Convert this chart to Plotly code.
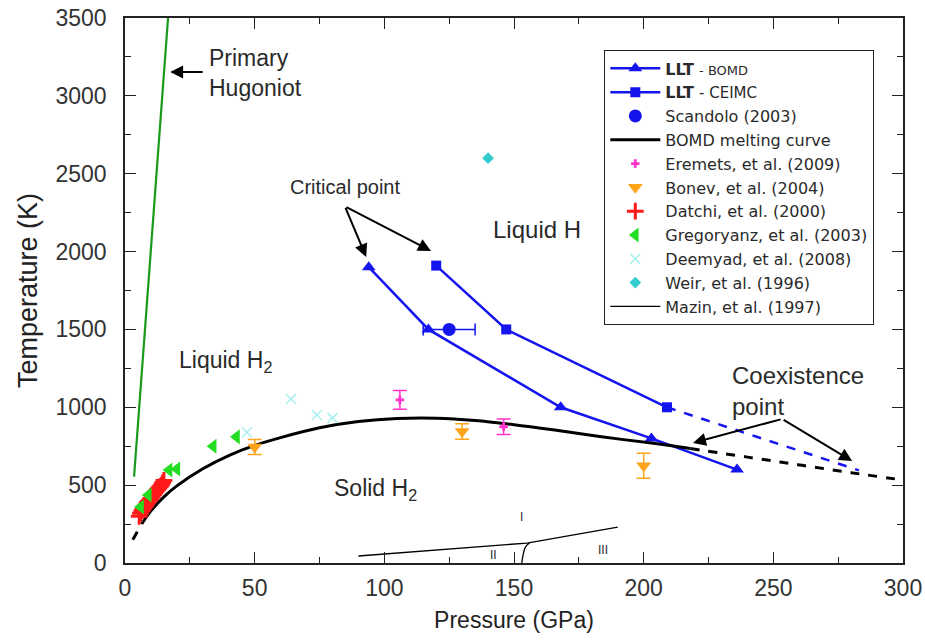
import plotly.graph_objects as go

# ---------------- data ----------------
llt_bomd_p = [94, 117, 168, 203, 236]
llt_bomd_t = [1900, 1500, 1000, 800, 600]

llt_ceimc_p = [120, 147, 209]
llt_ceimc_t = [1910, 1500, 1000]
llt_ceimc_ext_p = [209, 283]
llt_ceimc_ext_t = [1000, 595]

scandolo_p = [125]
scandolo_t = [1500]
scandolo_perr = [10]

melt_p = [7, 10, 15, 20, 30, 40, 50, 60, 75, 90, 105, 120, 135, 150, 165, 183, 203, 218]
melt_t = [265, 335, 425, 495, 605, 690, 755, 805, 868, 908, 928, 930, 915, 888, 855, 812, 770, 735]
melt_low_p = [3, 7]
melt_low_t = [150, 265]
melt_high_p = [218, 240, 260, 280, 300]
melt_high_t = [735, 680, 630, 580, 533]

eremets_p = [106, 146]
eremets_t = [1047, 875]
eremets_err = [60, 50]

bonev_p = [50, 130, 200]
bonev_t = [745, 845, 625]
bonev_err = [48, 50, 80]

datchi_p = [5.5, 6.0, 6.5, 7.0, 7.5, 8.0, 8.5, 9.0, 9.5, 10.0, 10.5, 11.0, 11.5, 12.0, 12.5, 13.0, 13.5, 14.0, 14.5, 15.0]
datchi_t = [300, 320, 335, 345, 360, 370, 385, 395, 405, 415, 425, 440, 450, 460, 470, 480, 490, 500, 515, 530]

gregoryanz_p = [6, 9, 17, 20, 34, 43]
gregoryanz_t = [360, 437, 597, 604, 750, 810]

deemyad_p = [47, 64, 74, 80]
deemyad_t = [840, 1053, 950, 932]

weir_p = [140]
weir_t = [2600]

mazin_p = [90, 150, 155, 190]
mazin_t = [45, 125, 128, 231]
mazin2_p = [153, 153.6, 154.5, 156]
mazin2_t = [0, 60, 105, 128]

hugoniot_p = [3.5, 16.6]
hugoniot_t = [555, 3500]

BLUE = "#1414ee"
TXT = "#2a2a2a"

fig = go.Figure()

fig.add_trace(go.Scatter(x=hugoniot_p, y=hugoniot_t, mode="lines",
                         line=dict(color="#1a9a1a", width=2.2), showlegend=False))

fig.add_trace(go.Scatter(x=llt_bomd_p, y=llt_bomd_t, mode="lines+markers",
                         name="<b>LLT</b> <span style='font-size:13px'>- BOMD</span>",
                         line=dict(color=BLUE, width=2.5),
                         marker=dict(symbol="triangle-up", size=12, color=BLUE)))
fig.add_trace(go.Scatter(x=llt_ceimc_p, y=llt_ceimc_t, mode="lines+markers",
                         name="<b>LLT</b> <span style='font-size:15px'>- CEIMC</span>",
                         line=dict(color=BLUE, width=2.5),
                         marker=dict(symbol="square", size=10, color=BLUE)))
fig.add_trace(go.Scatter(x=llt_ceimc_ext_p, y=llt_ceimc_ext_t, mode="lines",
                         line=dict(color=BLUE, width=2.5, dash="dash"), showlegend=False))
fig.add_trace(go.Scatter(x=scandolo_p, y=scandolo_t, mode="markers", name="Scandolo (2003)",
                         marker=dict(symbol="circle", size=13, color=BLUE),
                         error_x=dict(type="data", array=scandolo_perr, color=BLUE,
                                      thickness=1.5, width=6)))
fig.add_trace(go.Scatter(x=melt_p, y=melt_t, mode="lines", name="BOMD melting curve",
                         line=dict(color="black", width=3, shape="spline")))
fig.add_trace(go.Scatter(x=melt_low_p, y=melt_low_t, mode="lines",
                         line=dict(color="black", width=3, dash="dash"), showlegend=False))
fig.add_trace(go.Scatter(x=melt_high_p, y=melt_high_t, mode="lines",
                         line=dict(color="black", width=3, dash="dash", shape="spline"),
                         showlegend=False))
fig.add_trace(go.Scatter(x=eremets_p, y=eremets_t, mode="markers", name="Eremets, et al. (2009)",
                         marker=dict(symbol="cross", size=7, color="#ff33cc"),
                         error_y=dict(type="data", array=eremets_err, color="#ff33cc",
                                      thickness=1.5, width=7)))
fig.add_trace(go.Scatter(x=bonev_p, y=bonev_t, mode="markers", name="Bonev, et al. (2004)",
                         marker=dict(symbol="triangle-down", size=13, color="#ffa31a"),
                         error_y=dict(type="data", array=bonev_err, color="#ffa31a",
                                      thickness=1.5, width=7)))
fig.add_trace(go.Scatter(x=datchi_p, y=datchi_t, mode="markers", name="Datchi, et al. (2000)",
                         marker=dict(symbol="cross-thin", size=12, color="#ff1a1a",
                                     line=dict(width=3, color="#ff1a1a"))))
fig.add_trace(go.Scatter(x=gregoryanz_p, y=gregoryanz_t, mode="markers",
                         name="Gregoryanz, et al. (2003)",
                         marker=dict(symbol="triangle-left", size=13, color="#22dd22")))
fig.add_trace(go.Scatter(x=deemyad_p, y=deemyad_t, mode="markers", name="Deemyad, et al. (2008)",
                         marker=dict(symbol="x-thin", size=10, color="#a6f0f0",
                                     line=dict(width=1.5, color="#a6f0f0"))))
fig.add_trace(go.Scatter(x=weir_p, y=weir_t, mode="markers", name="Weir, et al. (1996)",
                         marker=dict(symbol="diamond", size=9, color="#33cccc")))
fig.add_trace(go.Scatter(x=mazin_p, y=mazin_t, mode="lines", name="Mazin, et al. (1997)",
                         line=dict(color="black", width=1.3)))
fig.add_trace(go.Scatter(x=mazin2_p, y=mazin2_t, mode="lines",
                         line=dict(color="black", width=1.3, shape="spline"), showlegend=False))

# ---------------- annotations ----------------
ann = []

def text(x, y, s, size=22, xanchor="center", align="center"):
    ann.append(dict(x=x, y=y, xref="x", yref="y", text=s, showarrow=False, align=align,
                    font=dict(size=size, color=TXT), xanchor=xanchor, yanchor="middle"))

def arrow(x0, y0, x1, y1):
    ann.append(dict(x=x1, y=y1, ax=x0, ay=y0, xref="x", yref="y", axref="x", ayref="y",
                    text="", showarrow=True, arrowhead=2, arrowsize=1.3, arrowwidth=2,
                    arrowcolor="black"))

text(31.6, 3147, "Primary<br>Hugoniot", 23, "left", "left")
arrow(30.5, 3154, 17.4, 3154)

text(84.8, 2415, "Critical point", 20)
arrow(84.8, 2290, 93, 1965)
arrow(84.8, 2290, 118, 2004)

text(158.9, 2139, "Liquid H", 24)
text(38.6, 1291, "Liquid H<sub>2</sub>", 23)
text(96.4, 469, "Solid H<sub>2</sub>", 23)

text(233.4, 1105, "Coexistence<br>point", 24, "left", "left")
arrow(253.4, 925, 219, 771)
arrow(253.4, 925, 280.4, 655)

text(153, 295, "I", 12)
text(142, 50, "II", 12)
text(184.3, 83, "III", 12)

axis_common = dict(showline=True, linecolor="#222", linewidth=1.5, mirror="ticks",
                   ticks="inside", ticklen=11, tickwidth=1.3, tickcolor="#222",
                   showgrid=False, zeroline=False, automargin=False,
                   tickfont=dict(family="Liberation Sans, Arial, sans-serif", size=23, color="#333"))

fig.update_layout(
    width=925, height=640,
    margin=dict(l=125, r=22, t=18, b=77),
    paper_bgcolor="white", plot_bgcolor="white",
    font=dict(family="Liberation Sans, Arial, sans-serif", color=TXT),
    xaxis=dict(range=[0, 300], dtick=50, tick0=0,
               minor=dict(dtick=25, ticks="inside", ticklen=6, tickcolor="#222", tickwidth=1.3),
               title=dict(text="Pressure (GPa)", font=dict(size=23, color="#222"), standoff=12),
               ticklabelstandoff=4, **axis_common),
    yaxis=dict(range=[0, 3500], dtick=500, tick0=0,
               minor=dict(dtick=250, ticks="inside", ticklen=6, tickcolor="#222", tickwidth=1.3),
               title=dict(text="Temperature (K)", font=dict(size=27, color="#222"), standoff=10),
               ticklabelstandoff=12, **axis_common),
    legend=dict(x=0.6157, y=0.941, xanchor="left", yanchor="top",
                bgcolor="white", bordercolor="#222", borderwidth=1.3,
                font=dict(family="DejaVu Sans, sans-serif", size=16, color=TXT),
                tracegroupgap=0, itemwidth=50),
    annotations=ann,
)

fig.write_html("out.html")
